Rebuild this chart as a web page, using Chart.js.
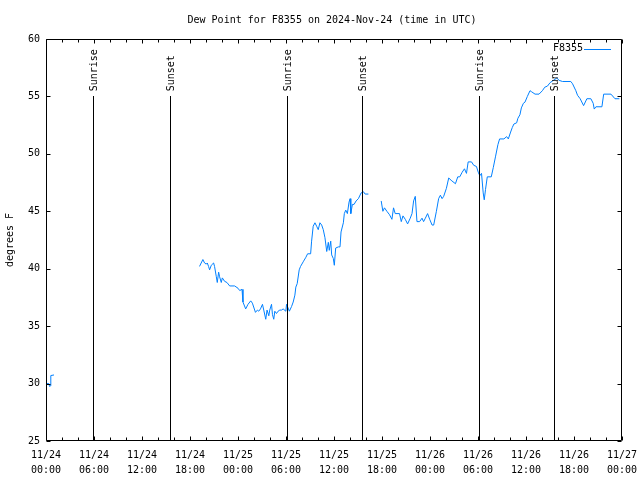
<!DOCTYPE html>
<html>
<head>
<meta charset="utf-8">
<script src="https://cdn.jsdelivr.net/npm/chart.js@4.4.1/dist/chart.umd.min.js"></script>
<style>
  html, body { margin: 0; padding: 0; background: #fff; }
  canvas { display: block; }
</style>
</head>
<body>
<canvas id="c" width="640" height="480"></canvas>
<script>
// hours since 2024-11-24 00:00 UTC, null value = gap in the record
var hours = [
  0.0, 0.35, 0.45, 0.55, 0.6, 1.0,
  10.0,
  19.19, 19.61, 19.82, 20.03, 20.16, 20.32, 20.45, 20.66, 20.95, 21.07,
  21.29, 21.41, 21.58, 21.70, 21.91, 22.04, 22.33, 22.62, 22.96, 23.58,
  24.00, 24.21, 24.50, 24.62, 24.96, 25.25, 25.59, 25.80, 26.18, 26.43,
  26.59, 26.81, 27.06, 27.22, 27.47, 27.63, 27.85, 27.97, 28.19, 28.31,
  28.47, 28.60, 28.81, 29.01, 29.23, 29.44, 29.64, 29.98, 30.07, 30.42,
  30.69, 30.90, 31.11, 31.23, 31.40, 31.65, 31.82, 32.15, 32.49, 32.70,
  33.08, 33.20, 33.40, 33.62, 33.83, 34.03, 34.24, 34.46, 34.66, 34.87,
  35.09, 35.29, 35.41, 35.59, 35.71, 35.91, 36.04, 36.21, 36.54, 36.75,
  36.88, 37.17, 37.29, 37.47, 37.67, 37.88, 38.01, 38.10, 38.30, 38.51,
  38.76, 39.05, 39.39, 39.68, 39.89, 40.30,
  41.0,
  41.90, 42.11, 42.31, 42.61, 42.94, 43.24, 43.44, 43.65, 44.19, 44.41,
  44.62, 44.91, 45.20, 45.53, 45.75, 45.95, 46.16, 46.37, 46.70, 47.00,
  47.20, 47.42, 47.70, 47.96, 48.26, 48.46, 48.80, 49.08, 49.30, 49.51,
  49.71, 50.05, 50.34, 50.64, 51.18, 51.47, 51.72, 52.02, 52.31, 52.56,
  52.77, 53.19, 53.47, 53.81, 54.03, 54.23, 54.44, 54.65, 54.78, 54.94,
  55.16, 55.66, 55.91, 56.20, 56.49, 56.70, 57.24, 57.58, 57.79, 58.08,
  58.29, 58.49, 58.83, 58.99, 59.24, 59.42, 59.67, 59.87, 60.17, 60.50,
  60.71, 61.13, 61.63, 62.05, 62.34, 62.68, 63.01, 63.43, 63.85, 64.14,
  64.56, 65.60, 65.82, 66.23, 66.44, 66.77, 67.20, 67.61, 68.11, 68.40,
  68.53, 68.74, 69.49, 69.71, 70.62, 71.12, 71.67
]

var dewPoint = [
  30.0, 30.0, 29.75, 29.8, 30.7, 30.75,
  null,
  40.2, 40.8, 40.5, 40.4, 40.5, 40.2, 39.9, 40.3, 40.5, 40.2,
  39.3, 38.8, 39.7, 39.3, 38.8, 39.2, 38.9, 38.8, 38.5, 38.5,
  38.3, 38.1, 38.2, 37.1, 36.5, 36.9, 37.2, 37.0, 36.2, 36.4,
  36.3, 36.5, 36.9, 36.4, 35.6, 36.4, 35.9, 36.4, 36.9, 36.0,
  35.6, 36.3, 36.1, 36.3, 36.4, 36.4, 36.5, 36.3, 36.9, 36.3,
  36.7, 37.1, 37.7, 38.4, 38.7, 39.9, 40.2, 40.6, 41.0, 41.3,
  41.3, 42.4, 43.7, 44.0, 43.7, 43.4, 44.0, 43.8, 43.4, 42.7,
  41.5, 42.3, 41.6, 42.4, 41.2, 40.9, 40.3, 41.8, 41.9, 41.9,
  43.2, 44.0, 44.8, 45.1, 44.8, 45.8, 46.1, 44.8, 45.6, 45.6,
  45.9, 46.1, 46.6, 46.7, 46.5, 46.5,
  null,
  45.9, 45.0, 45.3, 45.0, 44.7, 44.3, 45.3, 44.8, 44.8, 44.1,
  44.6, 44.3, 43.9, 44.4, 44.8, 45.9, 46.3, 44.1, 44.1, 44.4,
  44.1, 44.4, 44.8, 44.3, 43.8, 43.8, 45.0, 46.1, 46.4, 46.1,
  46.3, 47.0, 47.9, 47.7, 47.4, 48.0, 48.0, 48.4, 48.7, 48.3,
  49.3, 49.3, 49.0, 48.9, 48.4, 48.1, 48.3, 46.6, 46.0, 46.9,
  48.0, 48.0, 48.8, 49.8, 50.8, 51.3, 51.3, 51.5, 51.3, 51.9,
  52.3, 52.6, 52.7, 53.1, 53.4, 54.0, 54.4, 54.5, 55.0, 55.5,
  55.4, 55.2, 55.2, 55.5, 55.8, 55.9, 56.2, 56.4, 56.6, 56.4,
  56.3, 56.3, 56.1, 55.5, 55.1, 54.8, 54.2, 54.8, 54.8, 54.4,
  53.9, 54.1, 54.1, 55.2, 55.2, 54.8, 54.8
]

var sunriseHours = [5.93, 30.07, 54.1]
var sunsetHours = [15.45, 39.45, 63.5]

var stationName = 'F8355'
var chartTitle = 'Dew Point for F8355 on 2024-Nov-24 (time in UTC)'
var yLabel = 'degrees F'

var FONT = 'DejaVu Sans Mono'
var LINE_COLOR = '#0080ff'

function pad(n) {
  return (n < 10 ? '0' : '') + n
}

var points = hours.map(function(h, i) {
  return {x: h, y: dewPoint[i]}
})

// gnuplot-ish frame: box border, inward ticks, sun markers, key, title
var frame = {
  id: 'frame',
  afterDraw: function(chart) {
    var ctx = chart.ctx
      , a = chart.chartArea
      , xs = chart.scales.x
      , ys = chart.scales.y
    var L = Math.round(a.left) + 0.5
      , R = Math.round(a.right) - 0.5
      , T = Math.round(a.top) + 0.5
      , B = Math.round(a.bottom) - 0.5

    ctx.save()
    ctx.strokeStyle = '#000'
    ctx.lineWidth = 1
    ctx.beginPath()
    ctx.rect(L, T, R - L, B - T)

    for (var h = 0; h <= 72; h += 2) {
      var x = Math.round(xs.getPixelForValue(h)) + 0.5
      var len = (h % 6 === 0) ? 4 : 3
      ctx.moveTo(x, B); ctx.lineTo(x, B - len)
      ctx.moveTo(x, T); ctx.lineTo(x, T + len)
    }
    for (var v = 25; v <= 60; v += 5) {
      var y = Math.round(ys.getPixelForValue(v)) + 0.5
      ctx.moveTo(L, y); ctx.lineTo(L + 4, y)
      ctx.moveTo(R, y); ctx.lineTo(R - 4, y)
    }
    ctx.stroke()

    // sunrise / sunset markers
    var yTop = ys.getPixelForValue(55)
      , yText = ys.getPixelForValue(55.45)
    function marker(h, label) {
      var x = Math.round(xs.getPixelForValue(h)) + 0.5
      ctx.beginPath()
      ctx.moveTo(x, B)
      ctx.lineTo(x, Math.round(yTop))
      ctx.stroke()
      ctx.save()
      ctx.translate(x + 1, yText)
      ctx.rotate(-Math.PI / 2)
      ctx.fillStyle = '#000'
      ctx.font = '10px "' + FONT + '"'
      ctx.textAlign = 'left'
      ctx.textBaseline = 'middle'
      ctx.fillText(label, 0, 0)
      ctx.restore()
    }
    sunriseHours.forEach(function(h) { marker(h, 'Sunrise') })
    sunsetHours.forEach(function(h) { marker(h, 'Sunset') })

    // key
    ctx.font = '10px "' + FONT + '"'
    ctx.fillStyle = '#000'
    ctx.textAlign = 'right'
    ctx.textBaseline = 'middle'
    ctx.fillText(stationName, a.right - 39, a.top + 9)
    ctx.strokeStyle = LINE_COLOR
    ctx.beginPath()
    ctx.moveTo(a.right - 38, a.top + 10.5)
    ctx.lineTo(a.right - 11, a.top + 10.5)
    ctx.stroke()

    // title
    ctx.textAlign = 'center'
    ctx.fillText(chartTitle, 332, 20)
    ctx.restore()
  }
}

new Chart(document.getElementById('c'), {
  type: 'line',
  data: {
    datasets: [{
      label: stationName,
      data: points,
      borderColor: LINE_COLOR,
      borderWidth: 1,
      pointRadius: 0,
      tension: 0,
      spanGaps: false
    }]
  },
  options: {
    responsive: false,
    animation: false,
    devicePixelRatio: 1,
    layout: { padding: { top: 39, right: 18, left: 0, bottom: 0 } },
    plugins: {
      legend: { display: false },
      title: { display: false },
      tooltip: { enabled: false }
    },
    scales: {
      x: {
        type: 'linear',
        min: 0,
        max: 72,
        grid: { display: false, drawTicks: false },
        border: { display: false },
        afterFit: function(s) {
          s.height = 39
          s.paddingLeft = 0
          s.paddingRight = 0
        },
        ticks: {
          stepSize: 6,
          autoSkip: false,
          maxRotation: 0,
          padding: 7,
          color: '#000',
          font: { family: FONT, size: 10, lineHeight: 1.5 },
          callback: function(v) {
            var day = 24 + Math.floor(v / 24)
            return ['11/' + day, pad(v % 24) + ':00']
          }
        }
      },
      y: {
        min: 25,
        max: 60,
        grid: { display: false, drawTicks: false },
        border: { display: false },
        afterFit: function(s) { s.width = 46 },
        title: {
          display: true,
          text: yLabel,
          color: '#000',
          font: { family: FONT, size: 10 },
          padding: { top: 4, bottom: 4 }
        },
        ticks: {
          stepSize: 5,
          padding: 6,
          color: '#000',
          font: { family: FONT, size: 10 }
        }
      }
    }
  },
  plugins: [frame]
})
</script>
</body>
</html>
